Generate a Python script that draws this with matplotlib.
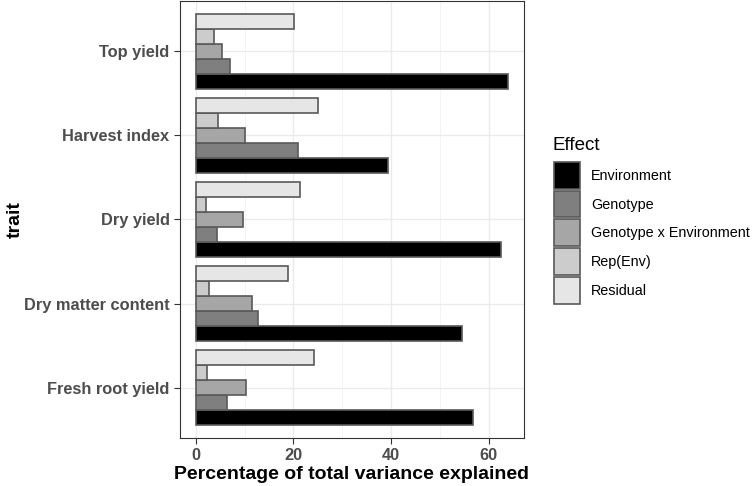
import matplotlib.pyplot as plt
from matplotlib.patches import Rectangle
import numpy as np

plt.rcParams['font.family'] = ['Liberation Sans', 'DejaVu Sans']

traits = ["Fresh root yield", "Dry matter content", "Dry yield", "Harvest index", "Top yield"]
effects = ["Environment", "Genotype", "Genotype x Environment", "Rep(Env)", "Residual"]
colors = ["#000000", "#7f7f7f", "#a6a6a6", "#cccccc", "#e6e6e6"]

# percentage of variance, per effect, in trait order
environment = [56.7, 54.5, 62.4, 39.4, 64.0]
genotype = [6.4, 12.7, 4.3, 21.0, 7.0]
gxe = [10.4, 11.5, 9.7, 10.2, 5.4]
rep_env = [2.4, 2.7, 2.2, 4.5, 3.7]
residual = [24.3, 18.9, 21.4, 25.0, 20.2]
values = [environment, genotype, gxe, rep_env, residual]

fig = plt.figure(figsize=(7.52, 4.86), dpi=100)
W, H = 752, 486
ax = fig.add_axes([180 / W, (486 - 438) / H, (524 - 180) / W, (438 - 1) / H])

y = np.arange(1, len(traits) + 1)
bh = 0.9 / len(effects)
for i, (eff, vals) in enumerate(zip(effects, values)):
    off = -0.45 + bh * (i + 0.5)
    ax.barh(y + off, vals, height=bh, color=colors[i], edgecolor="#595959",
            linewidth=1.2, label=eff, zorder=3)

ax.set_xlim(-3.2, 67.2)
ax.set_ylim(0.4, 5.6)
ax.set_xticks([0, 20, 40, 60])
ax.set_xticks([10, 30, 50], minor=True)
ax.set_yticks(y)
ax.set_yticklabels(traits)
ax.grid(True, which="major", color="#ebebeb", linewidth=1.0, zorder=0)
ax.grid(True, which="minor", axis="x", color="#f2f2f2", linewidth=0.6, zorder=0)
ax.tick_params(which="minor", length=0)
ax.tick_params(which="major", length=4, color="#333333", width=0.8)
for lab in ax.get_xticklabels() + ax.get_yticklabels():
    lab.set_fontsize(11.8)
    lab.set_fontweight("bold")
    lab.set_color("#4d4d4d")
for s in ax.spines.values():
    s.set_color("#333333")
    s.set_linewidth(0.8)

ax.set_xlabel("Percentage of total variance explained", fontsize=14, fontweight="bold", labelpad=2)
ax.set_ylabel("trait", fontsize=14, fontweight="bold")
ax.yaxis.set_label_coords((24 - 180) / 344, 0.5)

# legend
fig.text(553 / W, 1 - 145 / H, "Effect", fontsize=13.5, va="center", ha="left")
key_top = 161.5
key_h = 28.7
for i, eff in enumerate(effects):
    top = key_top + i * key_h
    fig.patches.append(Rectangle((554 / W, 1 - (top + key_h - 1.5) / H), 26 / W, (key_h - 2) / H,
                                 transform=fig.transFigure, facecolor=colors[i],
                                 edgecolor="#595959", linewidth=1.2))
    fig.text(591 / W, 1 - (top + key_h / 2) / H, eff, fontsize=10.4, va="center", ha="left")

fig.savefig("out.png", dpi=100)
